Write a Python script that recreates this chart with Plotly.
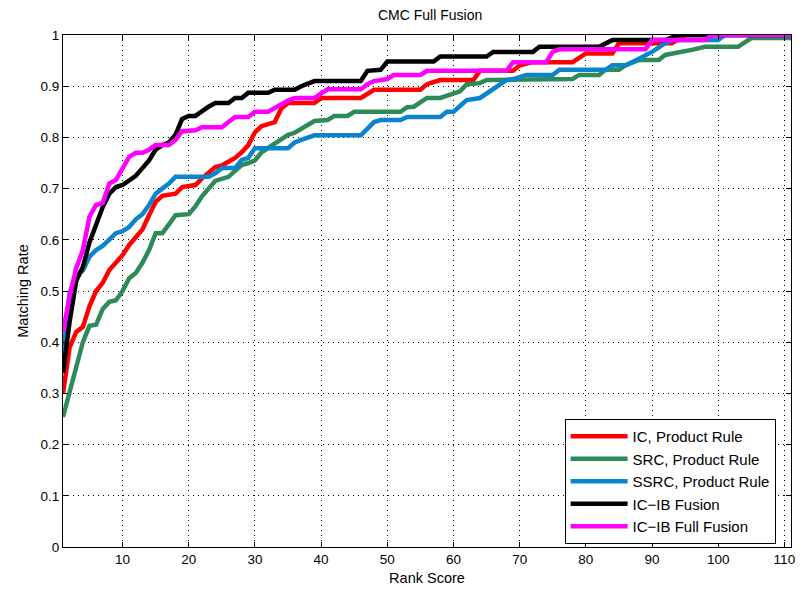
import plotly.graph_objects as go

# Rank positions and matching rates
ic_x = [1, 2, 3, 4, 5, 6, 7, 8, 10, 11, 12, 13, 14, 15, 16, 17, 18, 19, 20, 21, 22, 23, 24, 25, 26, 27, 28, 29, 30, 31, 32, 33, 34, 35, 39, 40, 46, 48, 55, 56, 58, 63, 64, 69, 70, 72, 78, 80, 84, 85, 93, 95, 111]
ic_y = [0.30, 0.39, 0.42, 0.43, 0.47, 0.50, 0.516, 0.541, 0.57, 0.59, 0.605, 0.62, 0.648, 0.674, 0.686, 0.688, 0.69, 0.703, 0.705, 0.707, 0.72, 0.73, 0.742, 0.745, 0.752, 0.76, 0.771, 0.785, 0.81, 0.822, 0.826, 0.83, 0.857, 0.867, 0.867, 0.877, 0.877, 0.893, 0.893, 0.904, 0.912, 0.912, 0.93, 0.93, 0.941, 0.947, 0.947, 0.964, 0.964, 0.984, 0.984, 1.0, 1.0]

src_x = [1, 2, 3, 4, 5, 6, 7, 8, 9, 10, 11, 12, 13, 14, 15, 16, 17, 18, 20, 21, 22, 23, 24, 26, 27, 28, 29, 30, 31, 35, 36, 39, 41, 42, 44, 45, 52, 53, 54, 56, 58, 60, 61, 62, 64, 65, 78, 79, 82, 83, 85, 86, 88, 91, 92, 96, 98, 103, 104, 105, 111]
src_y = [0.254, 0.30, 0.35, 0.40, 0.432, 0.434, 0.465, 0.479, 0.482, 0.50, 0.525, 0.535, 0.555, 0.58, 0.613, 0.613, 0.63, 0.648, 0.65, 0.665, 0.685, 0.70, 0.715, 0.723, 0.735, 0.746, 0.75, 0.755, 0.771, 0.805, 0.809, 0.832, 0.834, 0.842, 0.842, 0.85, 0.85, 0.859, 0.86, 0.877, 0.877, 0.887, 0.89, 0.904, 0.906, 0.912, 0.914, 0.922, 0.922, 0.932, 0.932, 0.941, 0.951, 0.951, 0.961, 0.971, 0.977, 0.977, 0.986, 0.994, 0.994]

ssrc_x = [1, 2, 3, 4, 5, 6, 7, 8, 9, 10, 11, 12, 13, 14, 15, 16, 17, 18, 23, 24, 25, 27, 28, 29, 30, 35, 36, 37, 38, 39, 46, 48, 49, 52, 53, 58, 59, 60, 62, 64, 68, 69, 71, 75, 76, 83, 84, 86, 87, 89, 90, 92, 93, 100, 101, 111]
ssrc_y = [0.37, 0.496, 0.53, 0.54, 0.567, 0.58, 0.588, 0.60, 0.613, 0.617, 0.625, 0.64, 0.65, 0.668, 0.69, 0.70, 0.71, 0.723, 0.723, 0.73, 0.74, 0.74, 0.756, 0.76, 0.779, 0.779, 0.79, 0.795, 0.80, 0.804, 0.804, 0.83, 0.834, 0.834, 0.84, 0.84, 0.85, 0.85, 0.873, 0.877, 0.912, 0.914, 0.922, 0.922, 0.932, 0.932, 0.941, 0.941, 0.947, 0.96, 0.967, 0.984, 0.99, 0.99, 1.0, 1.0]

icib_x = [1, 2, 3, 4, 5, 6, 7, 8, 9, 10, 11, 12, 13, 14, 15, 16, 17, 18, 19, 20, 21, 22, 23, 24, 26, 27, 28, 29, 32, 33, 36, 37, 38, 39, 46, 47, 49, 50, 57, 58, 65, 66, 72, 73, 82, 84, 92, 94, 111]
icib_y = [0.34, 0.44, 0.52, 0.547, 0.595, 0.63, 0.664, 0.69, 0.703, 0.707, 0.715, 0.725, 0.74, 0.755, 0.776, 0.785, 0.79, 0.805, 0.836, 0.842, 0.842, 0.852, 0.86, 0.867, 0.867, 0.877, 0.877, 0.887, 0.887, 0.893, 0.893, 0.90, 0.905, 0.91, 0.91, 0.93, 0.932, 0.948, 0.948, 0.958, 0.958, 0.967, 0.967, 0.977, 0.977, 0.99, 0.99, 1.0, 1.0]

full_x = [1, 2, 3, 4, 5, 6, 7, 8, 9, 10, 11, 12, 13, 14, 15, 17, 18, 19, 21, 22, 25, 26, 27, 29, 30, 32, 33, 34, 35, 36, 39, 40, 41, 46, 47, 48, 50, 51, 55, 56, 68, 69, 74, 75, 76, 89, 90, 98, 99, 111]
full_y = [0.42, 0.49, 0.545, 0.58, 0.645, 0.668, 0.672, 0.71, 0.717, 0.74, 0.762, 0.77, 0.77, 0.776, 0.785, 0.785, 0.795, 0.812, 0.814, 0.82, 0.82, 0.83, 0.84, 0.84, 0.85, 0.85, 0.858, 0.865, 0.872, 0.877, 0.877, 0.886, 0.894, 0.894, 0.904, 0.91, 0.914, 0.922, 0.922, 0.93, 0.93, 0.947, 0.947, 0.967, 0.972, 0.972, 0.99, 0.99, 1.0, 1.0]

series = [
    ("IC, Product Rule", ic_x, ic_y, "#ff0000"),
    ("SRC, Product Rule", src_x, src_y, "#2e8b57"),
    ("SSRC, Product Rule", ssrc_x, ssrc_y, "#0b84ce"),
    ("IC\u2212IB Fusion", icib_x, icib_y, "#000000"),
    ("IC\u2212IB Full Fusion", full_x, full_y, "#ff00ff"),
]

x_ticks = [10, 20, 30, 40, 50, 60, 70, 80, 90, 100, 110]
y_ticks = [0, 0.1, 0.2, 0.3, 0.4, 0.5, 0.6, 0.7, 0.8, 0.9, 1]
y_ticktext = ["0", "0.1", "0.2", "0.3", "0.4", "0.5", "0.6", "0.7", "0.8", "0.9", "1"]

fig = go.Figure()
for i, (name, xs, ys, col) in enumerate(series):
    fig.add_trace(go.Scatter(x=xs, y=ys, mode="lines", name=name,
                             line=dict(color=col, width=4.5)))

font = "Liberation Sans, Arial, sans-serif"
axis_common = dict(
    showline=True, linecolor="black", linewidth=1, mirror="ticks",
    ticks="inside", ticklen=5, tickcolor="black", tickwidth=1,
    showgrid=True, gridcolor="black", gridwidth=1, griddash="1px,4px",
    zeroline=False, tickfont=dict(family=font, size=13.5, color="black"),
)

fig.update_layout(
    width=804, height=592,
    margin=dict(l=63, r=9, t=35, b=45),
    paper_bgcolor="white", plot_bgcolor="white",
    title=dict(text="CMC Full Fusion", x=0.535, xanchor="center",
               y=0.975, yanchor="middle",
               font=dict(family=font, size=14, color="black")),
    xaxis=dict(range=[1, 111], tickvals=x_ticks,
               title=dict(text="Rank Score", standoff=6,
                          font=dict(family=font, size=14.5, color="black")),
               **axis_common),
    yaxis=dict(range=[0, 1], tickvals=y_ticks, ticktext=y_ticktext,
               title=dict(text="Matching Rate", standoff=8,
                          font=dict(family=font, size=14.5, color="black")),
               **axis_common),
    legend=dict(x=0.689, y=0.25, xanchor="left", yanchor="top",
                bgcolor="white", bordercolor="black", borderwidth=1,
                font=dict(family=font, size=15, color="black"),
                itemwidth=57),
    showlegend=True,
)

fig.write_html("out.html")
